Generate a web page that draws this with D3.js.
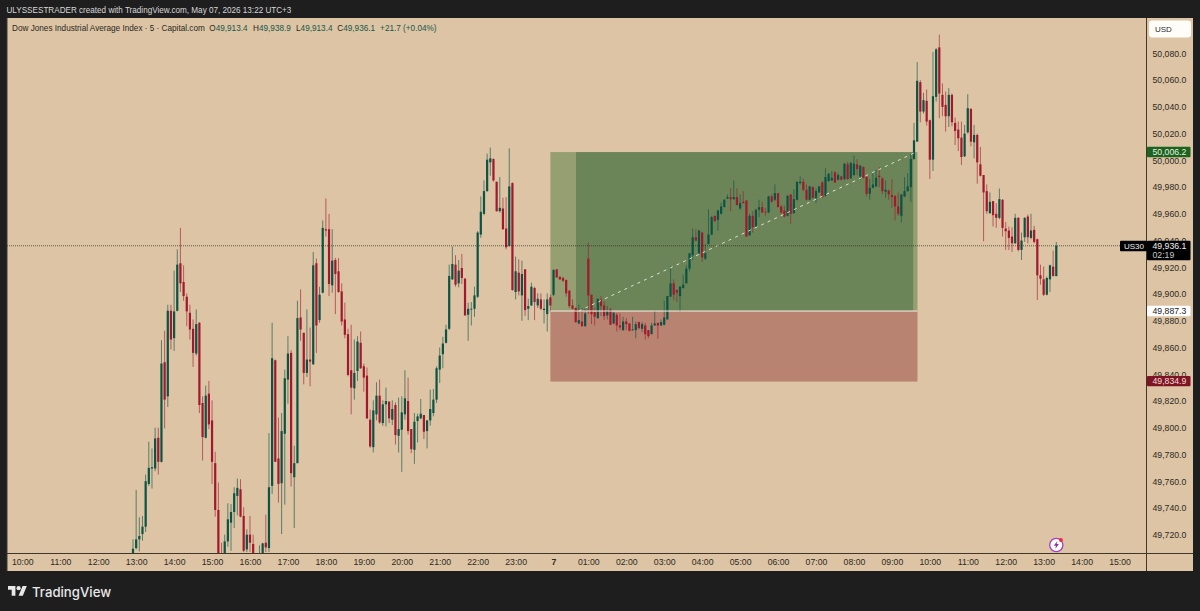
<!DOCTYPE html>
<html>
<head>
<meta charset="utf-8">
<script src="https://cdn.jsdelivr.net/npm/d3@7"></script>
<style>
  html, body { margin: 0; padding: 0; background: #1e1e1e; }
  svg { display: block; font-family: "Liberation Sans", Arial, sans-serif; }
</style>
</head>
<body>
<script>
const WIDTH = 1200;
const HEIGHT = 611;

// 5 minute candles, left to right, first one is 12:55
const opens = [
  49705.5,49710,49716.5,49720.5,49726,49758,49769.5,49769.5,49792.5,49774.5,
  49849,49823.5,49887.5,49867,49887.5,49923,49909,49898,49886,49874,
  49855.5,49878.5,49818.5,49792.5,49825.5,49805.5,49773.5,49738.5,49705.5,49705.5,
  49715,49729,49737,49749,49754,49734,49709,49720,49713,49700,
  49703,49705.5,49714,49710,49756.5,49850.5,49777,49758.5,49795.5,49836,
  49856,49763,49773.5,49882.5,49871,49841,49851,49847.5,49923,49880.5,
  49901,49948.5,49948.5,49906.5,49925.5,49917,49902,49881,49870,49843,
  49829.5,49842.5,49863.5,49846,49839,49806,49785.5,49810,49824,49803.5,
  49817.5,49819.5,49806,49817,49794,49798.5,49810,49820,49799,49783.5,
  49805,49807,49809.5,49797.5,49805.5,49811,49821,49843.5,49855,49863.5,
  49874,49911,49922,49908,49919.5,49911.5,49884.5,49888.5,49889,49898,
  49944.5,49960,49977,49998.5,50001,49984,49962,49964,49949,49936,
  49983,49901.5,49916,49899,49918.5,49889,49891.5,49904.5,49891.5,49896,
  49888,49885,49897.5,49899.5,49918.5,49913,49912,49910.5,49902.5,49891.5,
  49889.5,49878,49879.5,49876,49926.5,49899.5,49886.5,49882,49896,49891.5,
  49884,49888.5,49878,49884.5,49876.5,49873,49879.5,49878,49873,49873,
  49879,49874,49876.5,49873,49870,49876.5,49878.5,49876.5,49877,49881,
  49898,49908,49903,49898.5,49904.5,49908,49919,49929,49942.5,49930.5,
  49946,49926.5,49937.5,49944.5,49958.5,49955.5,49960,49965,49971.5,49972.5,
  49971,49972.5,49964,49969,49970,49944,49958.5,49950.5,49963,49965,
  49961.5,49961,49973,49970.5,49975.5,49965.5,49962.5,49958.5,49974.5,49960.5,
  49970.5,49983,49984,49978,49970.5,49980,49972,49976,49983.5,49973.5,
  49984.5,49985,49991,49985.5,49988,49986,49997,49986.5,49989,49997,
  49988,49995,49987.5,49975,49979.5,49980.5,49988.5,49986.5,49976.5,49977.5,
  49974,49973.5,49965.5,49958.5,49973,49977,49980,50001,50014,50058.5,
  50036.5,50044.5,50030,50000.5,50047.5,50084.5,50049,50041.5,50033,50049,
  50028,50023,50017,50003,50021,50038.5,50013.5,50019,49997,49989,
  49977,49960.5,49969.5,49960,49957,49970.5,49949,49947.5,49943,49938,
  49957,49933,49942.5,49958,49942,49948,49941,49914,49911,49899.5,
  49911,49920.5,49913.4
];
const highs = [
  49716.5,49753.5,49733,49734,49765,49789.5,49784.5,49800,49800,49865.5,
  49872.5,49892,49892,49917.5,49933.5,49949.5,49921.5,49900.5,49892,49881,
  49888.5,49879,49823.5,49831.5,49835,49820.5,49782,49759,49714,49720,
  49743.5,49743,49755.5,49762,49761.5,49740.5,49724,49734,49720,49705,
  49712,49714,49735,49796,49878.5,49851,49807.5,49811,49843.5,49868.5,
  49858,49786.5,49895,49903.5,49871,49888.5,49875,49931.5,49926.5,49905.5,
  49955,49971.5,49960,49948.5,49927,49927,49908,49893.5,49874,49877,
  49866,49868.5,49872,49848,49845,49813.5,49820.5,49834,49836,49820.5,
  49830,49820,49820.5,49819,49822.5,49823.5,49843,49837.5,49799,49811,
  49810.5,49821.5,49809.5,49805.5,49828.5,49829,49846,49860,49868,49877,
  49922,49935.5,49929,49925.5,49930,49912,49893.5,49894,49905.5,49947,
  49973,49985,50005,50009.5,50001.5,49984,49987.5,49972,49972.5,50009,
  49983.5,49928,49926,49925,49918.5,49896.5,49908.5,49905.5,49900.5,49900.5,
  49896,49900.5,49899.5,49918.5,49918.5,49913,49913,49911,49903,49896,
  49890,49892,49889.5,49889.5,49938.5,49899.5,49889.5,49896.5,49898.5,49894.5,
  49891,49889.5,49886.5,49886,49885.5,49883,49882,49878,49883,49879.5,
  49879.5,49879,49878.5,49873,49878.5,49887.5,49878.5,49881,49895,49898.5,
  49921,49911,49903.5,49906,49914.5,49921.5,49930.5,49949,49948.5,49948,
  49946.5,49937.5,49963.5,49958.5,49958.5,49963,49968.5,49971,49974.5,49979,
  49985,49979,49974.5,49977,49970,49960,49962,49964,49970.5,49969,
  49964.5,49973.5,49974.5,49982,49975.5,49966.5,49966,49974,49974.5,49978.5,
  49984,49988,49986.5,49982,49981,49980.5,49979,49981,49984.5,49994,
  49990.5,49992,49992,49990.5,49988.5,49998,49999,49999,50003.5,50001,
  49996.5,49995.5,49988,49986,49991,49993,49995,49987.5,49985,49978,
  49986,49973.5,49976,49974.5,49987.5,49990.5,50005,50028,50073.5,50060,
  50050.5,50053,50030.5,50081,50084,50094,50057.5,50051.5,50054,50050,
  50032,50029,50029,50026.5,50049.5,50039,50026.5,50020,50010,49989,
  49982,49976,49969.5,49968,49979,49971,49954,49950.5,49950,49960,
  49957.5,49946,49957.5,49959.5,49960,49951,49941.5,49922,49920.5,49913,
  49922,49932.5,49938.9
];
const lows = [
  49704,49709,49707.5,49715.5,49722,49756.5,49754.5,49767.5,49765,49774,
  49799.5,49815.5,49858.5,49857.5,49887,49901.5,49895,49876,49866,49845.5,
  49854,49811,49775.5,49792,49799,49758,49733.5,49701.5,49699,49704,
  49711,49708,49725,49734.5,49733,49707,49707,49707,49703,49695,
  49701.5,49704,49707,49707,49750.5,49774.5,49744,49720.5,49742.5,49818,
  49756,49725,49773.5,49865,49832.5,49838,49831,49847,49856,49878.5,
  49900.5,49943,49898.5,49901,49885,49901,49876.5,49867,49838.5,49810,
  49821,49835,49844,49827,49806.5,49785,49781.5,49805.5,49803,49801.5,
  49801,49803.5,49802,49787.5,49781.5,49767,49806,49795,49781,49773,
  49789,49806.5,49791.5,49784.5,49801.5,49808.5,49818.5,49833.5,49844.5,49863,
  49873,49910.5,49905.5,49905,49907.5,49884,49865,49876.5,49883,49897,
  49942,49959,49976.5,49988.5,49984,49961.5,49961,49948,49933.5,49935.5,
  49902.5,49896,49899,49880,49883.5,49880.5,49891,49880.5,49889.5,49888,
  49878,49872,49887,49898.5,49912,49910.5,49909,49898,49889.5,49888.5,
  49878.5,49877.5,49875.5,49875.5,49885,49877.5,49876.5,49881.5,49883.5,49880.5,
  49881,49877,49877.5,49872,49873,49872.5,49873,49872,49872.5,49867,
  49873.5,49871.5,49866,49867,49870,49876.5,49866.5,49876,49876.5,49881,
  49898,49895.5,49894,49886.5,49904,49908,49917,49925.5,49939.5,49930,
  49924,49925.5,49937,49944,49954,49947.5,49959.5,49965,49971,49962,
  49970.5,49966.5,49963,49968,49943,49943.5,49946,49950,49957.5,49960.5,
  49958.5,49960.5,49968.5,49969.5,49965,49960,49957.5,49958,49952.5,49960,
  49970,49982,49977,49970,49970,49971.5,49968,49975.5,49972,49973,
  49984,49984.5,49983,49985,49985,49985,49985.5,49986.5,49988.5,49989,
  49985.5,49986.5,49973,49970.5,49979,49980,49980,49974.5,49972,49970.5,
  49964.5,49955,49958.5,49953.5,49972.5,49976.5,49969,50000.5,50014,50028.5,
  50035,50026,49986,49992,50044,50031.5,50033,50021.5,50025,50025.5,
  50011.5,50007,49996.5,50002.5,50020,50010.5,50001.5,49982.5,49988,49939.5,
  49960,49960,49950.5,49949.5,49956,49943,49933,49933,49931.5,49937.5,
  49932,49925.5,49939,49938,49941,49938,49895.5,49907,49898.5,49899,
  49901.5,49913,49913.4
];
const closes = [
  49709.5,49716.5,49719,49726,49760,49770,49770.5,49792,49774.5,49848,
  49821,49887.5,49866,49887,49922,49908,49898.5,49887,49873.5,49856,
  49877.5,49817,49793,49824,49802.5,49774.5,49738.5,49705.5,49701.5,49715,
  49731.5,49737,49751,49755,49733.5,49708,49720,49714,49705.5,49702,
  49705.5,49713.5,49710.5,49755.5,49852,49774.5,49758,49797.5,49837,49855.5,
  49766,49773.5,49882,49873.5,49841,49851,49849.5,49921.5,49876.5,49899.5,
  49949.5,49947.5,49907.5,49925,49915,49901.5,49879.5,49869.5,49839.5,49830,
  49841,49864.5,49844.5,49837.5,49807,49786,49813,49824,49804,49817.5,
  49820,49807,49814,49794.5,49799,49811.5,49822,49797.5,49784,49804.5,
  49808.5,49810.5,49797,49805.5,49814,49821,49844.5,49854,49863,49873.5,
  49913.5,49922.5,49907,49917.5,49912,49884,49889,49889,49899,49946,
  49961.5,49977,50000.5,50001.5,49985,49962,49964.5,49948.5,49935,49980.5,
  49903,49917,49902,49915,49888,49891,49905.5,49894,49896.5,49889,
  49889,49896,49891.5,49918,49912.5,49911,49910,49900.5,49891,49889,
  49879,49880.5,49876,49885.5,49899,49885,49883,49896.5,49891,49883.5,
  49887.5,49877,49886,49876.5,49875,49879.5,49877.5,49872.5,49873.5,49877.5,
  49874.5,49877.5,49870,49868.5,49876.5,49878,49876.5,49879,49882.5,49898.5,
  49908,49899.5,49901,49905.5,49907,49919,49930.5,49942.5,49940,49947.5,
  49927.5,49930.5,49944.5,49957.5,49954.5,49962.5,49965.5,49970.5,49972.5,49971,
  49972.5,49966.5,49968,49968,49943,49958.5,49950,49963,49965,49961,
  49961,49973,49969,49975.5,49965,49961,49958,49973.5,49960,49971,
  49984,49984,49978,49970.5,49980.5,49972,49977,49980.5,49972.5,49987.5,
  49990,49987,49983.5,49989,49985.5,49997.5,49986,49998,49997.5,49993.5,
  49996,49987,49975,49979.5,49982,49987,49987.5,49977,49978,49974.5,
  49972.5,49965.5,49960,49974.5,49977,49980.5,50001,50015,50059.5,50036.5,
  50045,50029,50000.5,50048,50083,50050,50040,50033,50049,50028.5,
  50022,50016.5,50002.5,50020,50039,50014,50019,49998.5,49988.5,49976,
  49962,49969,49959,49957,49971,49949.5,49947,49942,49938,49957,
  49933,49940,49957,49942.5,49947.5,49939,49914,49911.5,49899.5,49912,
  49921.5,49913.5,49936.1
];

const priceTicks = [50080,50060,50040,50020,50000,49980,49960,49940,49920,49900,49880,49860,49840,49820,49800,49780,49760,49740,49720];
const timeLabels = ["10:00","11:00","12:00","13:00","14:00","15:00","16:00","17:00","18:00","19:00","20:00","21:00","22:00","23:00","7","01:00","02:00","03:00","04:00","05:00","06:00","07:00","08:00","09:00","10:00","11:00","12:00","13:00","14:00","15:00"];
const timeBars = [-34,-22,-10,2,14,26,38,50,62,74,86,98,110,122,134,145,157,169,181,193,205,217,229,241,253,265,277,289,301,313];

// long position tool
const entryPrice = 49887.3;
const targetPrice = 50006.2;
const stopPrice = 49834.9;
const positionBars = [133, 141.1, 247.9, 249.1];
const tradeLine = [{bar: 142, price: 49887.3}, {bar: 248, price: 50005.5}];
const lastPrice = 49936.1;

const legendParts = [
  {text: "Dow Jones Industrial Average Index \u00b7 5 \u00b7 Capital.com", color: "#2b2a22"},
  {text: "O", color: "#2b2a22", gap: 4.5}, {text: "49,913.4", color: "#17584a"},
  {text: "H", color: "#2b2a22", gap: 5.5}, {text: "49,938.9", color: "#17584a"},
  {text: "L", color: "#2b2a22", gap: 5.2}, {text: "49,913.4", color: "#17584a"},
  {text: "C", color: "#2b2a22", gap: 4.8}, {text: "49,936.1", color: "#17584a"},
  {text: "+21.7 (+0.04%)", color: "#17584a", gap: 5}
];

const BG = "#dcc4a5";
const PAGE = "#1e1e1e";
const UP = "#0b5344";
const DOWN = "#a3182c";
const PLOT = {left: 7, right: 1146.5, top: 18, bottom: 553.5, axisBottom: 571, panelRight: 1193};

const x = d3.scaleLinear().domain([1, 293]).range([133, 1056.3]);
const y = d3.scaleLinear().domain([50080, 49720]).range([53.4, 534.7]);

const svg = d3.select("body").append("svg")
  .attr("width", WIDTH)
  .attr("height", HEIGHT);

svg.append("rect").attr("width", WIDTH).attr("height", HEIGHT).attr("fill", PAGE);
svg.append("rect")
  .attr("x", PLOT.left).attr("y", PLOT.top)
  .attr("width", PLOT.panelRight - PLOT.left)
  .attr("height", PLOT.axisBottom - PLOT.top)
  .attr("fill", BG);

svg.append("clipPath").attr("id", "plot").append("rect")
  .attr("x", PLOT.left).attr("y", PLOT.top)
  .attr("width", PLOT.right - PLOT.left)
  .attr("height", PLOT.bottom - PLOT.top);

const chart = svg.append("g").attr("clip-path", "url(#plot)");

// position boxes sit under the candles
const pos = chart.append("g");
pos.append("rect")
  .attr("x", x(positionBars[0])).attr("y", y(targetPrice))
  .attr("width", x(positionBars[1]) - x(positionBars[0]))
  .attr("height", y(entryPrice) - y(targetPrice))
  .attr("fill", "#959f72");
pos.append("rect")
  .attr("x", x(positionBars[1])).attr("y", y(targetPrice))
  .attr("width", x(positionBars[2]) - x(positionBars[1]))
  .attr("height", y(entryPrice) - y(targetPrice))
  .attr("fill", "#6b8558");
pos.append("rect")
  .attr("x", x(positionBars[2])).attr("y", y(targetPrice))
  .attr("width", x(positionBars[3]) - x(positionBars[2]))
  .attr("height", y(entryPrice) - y(targetPrice))
  .attr("fill", "#959f72");
pos.append("rect")
  .attr("x", x(positionBars[0])).attr("y", y(entryPrice))
  .attr("width", x(positionBars[3]) - x(positionBars[0]))
  .attr("height", y(stopPrice) - y(entryPrice) + 0.5)
  .attr("fill", "#b88471");

const isUp = i => closes[i] >= opens[i];

chart.append("g").selectAll("line")
  .data(d3.range(opens.length))
  .join("line")
  .attr("x1", i => x(i + 1))
  .attr("x2", i => x(i + 1))
  .attr("y1", i => y(highs[i]))
  .attr("y2", i => y(lows[i]))
  .attr("stroke", i => isUp(i) ? UP : DOWN)
  .attr("stroke-opacity", 0.62)
  .attr("stroke-width", 1);

chart.append("g").selectAll("rect")
  .data(d3.range(opens.length))
  .join("rect")
  .attr("x", i => x(i + 1) - 1.1)
  .attr("width", 2.2)
  .attr("y", i => y(Math.max(opens[i], closes[i])))
  .attr("height", i => Math.max(0.8, Math.abs(y(opens[i]) - y(closes[i]))))
  .attr("fill", i => isUp(i) ? UP : DOWN);

// entry line and the dashed trade line go over the candles
chart.append("line")
  .attr("x1", x(positionBars[0])).attr("x2", x(positionBars[3]))
  .attr("y1", y(entryPrice)).attr("y2", y(entryPrice))
  .attr("stroke", "#f4efe6").attr("stroke-width", 1);

const tradePath = d3.line().x(d => x(d.bar)).y(d => y(d.price));
chart.append("path")
  .attr("d", tradePath(tradeLine))
  .attr("fill", "none")
  .attr("stroke", "#f2efe4")
  .attr("stroke-opacity", 0.85)
  .attr("stroke-width", 1)
  .attr("stroke-dasharray", "3 4.2");

// last price line
chart.append("line")
  .attr("x1", PLOT.left).attr("x2", PLOT.right)
  .attr("y1", y(lastPrice)).attr("y2", y(lastPrice))
  .attr("stroke", "#2a2a20")
  .attr("stroke-opacity", 0.7)
  .attr("stroke-width", 1)
  .attr("stroke-dasharray", "1 1");

// axes
const yAxis = d3.axisRight(y)
  .tickValues(priceTicks)
  .tickSize(0)
  .tickPadding(6)
  .tickFormat(d3.format(",.1f"));
const yG = svg.append("g").attr("transform", `translate(${PLOT.right},0)`).call(yAxis);
yG.select(".domain").remove();
yG.selectAll("text").attr("font-size", 8.7).attr("fill", "#2e2a22").attr("font-family", "Liberation Sans");

const xAxis = d3.axisBottom(x)
  .tickValues(timeBars)
  .tickSize(0)
  .tickPadding(5.5)
  .tickFormat((d, i) => timeLabels[i]);
const xG = svg.append("g").attr("transform", `translate(0,${PLOT.bottom})`).call(xAxis);
xG.select(".domain").remove();
xG.selectAll("text").attr("font-size", 8.7).attr("fill", "#2e2a22").attr("font-family", "Liberation Sans");
xG.selectAll(".tick").filter((d, i) => timeLabels[i] === "7").select("text").attr("font-weight", "bold");

// frame lines
const frame = svg.append("g").attr("stroke", "#40362a").attr("stroke-width", 1);
frame.append("line").attr("x1", PLOT.left).attr("x2", PLOT.panelRight).attr("y1", PLOT.bottom).attr("y2", PLOT.bottom);
frame.append("line").attr("x1", PLOT.right).attr("x2", PLOT.right).attr("y1", PLOT.top).attr("y2", PLOT.axisBottom);
frame.append("line").attr("x1", PLOT.left).attr("x2", PLOT.left).attr("y1", PLOT.top).attr("y2", PLOT.axisBottom).attr("stroke", "#3a3a3a");

function priceBox(price, fill, color, label) {
  const cy = y(price);
  svg.append("rect")
    .attr("x", PLOT.right + 0.5).attr("y", cy - 5.2)
    .attr("width", 43.5).attr("height", 10.4)
    .attr("rx", 1).attr("fill", fill);
  svg.append("text")
    .attr("x", PLOT.right + 6).attr("y", cy + 3.1)
    .attr("font-size", 8.7).attr("fill", color)
    .text(label);
}

priceBox(targetPrice, "#1b631f", "#e6efe2", "50,006.2");
priceBox(entryPrice, "#ffffff", "#222222", "49,887.3");
priceBox(stopPrice, "#7f1522", "#f4dcdc", "49,834.9");

// current price tag
const py = y(lastPrice);
svg.append("rect").attr("x", 1120).attr("y", py - 5).attr("width", 27).attr("height", 10.5).attr("rx", 1).attr("fill", "#000");
svg.append("text").attr("x", 1124).attr("y", py + 3.4).attr("font-size", 8).attr("fill", "#f0f0f0").text("US30");
svg.append("rect").attr("x", PLOT.right + 0.5).attr("y", py - 5).attr("width", 43.5).attr("height", 19.5).attr("rx", 1).attr("fill", "#000");
svg.append("text").attr("x", PLOT.right + 6).attr("y", py + 3.2).attr("font-size", 8.7).attr("fill", "#f0f0f0").text("49,936.1");
svg.append("text").attr("x", PLOT.right + 6).attr("y", py + 12).attr("font-size", 8.7).attr("fill", "#c8c8c8").text("02:19");

// USD button
svg.append("rect").attr("x", 1149).attr("y", 20.5).attr("width", 42).attr("height", 17).attr("rx", 3).attr("fill", "#fffdf8");
svg.append("text").attr("x", 1155).attr("y", 31.5).attr("font-size", 8).attr("fill", "#2b2b2b").text("USD");

// header + legend
svg.append("text")
  .attr("x", 6.5).attr("y", 13)
  .attr("font-size", 8.15).attr("fill", "#d8d8d8")
  .text("ULYSSESTRADER created with TradingView.com, May 07, 2026 13:22 UTC+3");

const legend = svg.append("text").attr("x", 12).attr("y", 31).attr("font-size", 8.2);
legendParts.forEach(p => {
  legend.append("tspan")
    .attr("dx", p.gap || 0)
    .attr("fill", p.color)
    .text(p.text);
});

// bolt badge near the bottom
const badge = svg.append("g").attr("transform", "translate(1056.3,545)");
badge.append("circle").attr("r", 6.6).attr("fill", "#fff").attr("stroke", "#a63fc4").attr("stroke-width", 1.3);
badge.append("path").attr("d", "M1,-4 L-2.5,0.7 L-0.3,0.7 L-1,4 L2.5,-0.9 L0.3,-0.9 Z").attr("fill", "#8e2cb0");
badge.append("circle").attr("cx", 4.6).attr("cy", -5).attr("r", 1.9).attr("fill", "#f0293c");

// logo
const logo = svg.append("g").attr("transform", "translate(8,584)").attr("fill", "#e8e8e8");
logo.append("path").attr("transform", "scale(0.53) translate(0,-4)")
  .attr("d", "M14 26H7V15H0V8h14v18zM28 26h-8l7.5-18h8L28 26z");
logo.append("circle").attr("cx", 10.6).attr("cy", 4.2).attr("r", 2.1);
svg.append("text")
  .attr("x", 32).attr("y", 596.5)
  .attr("font-family", "Inter").attr("font-size", 13.2).attr("font-weight", 500)
  .attr("fill", "#e8e8e8")
  .text("TradingView");
</script>
</body>
</html>
